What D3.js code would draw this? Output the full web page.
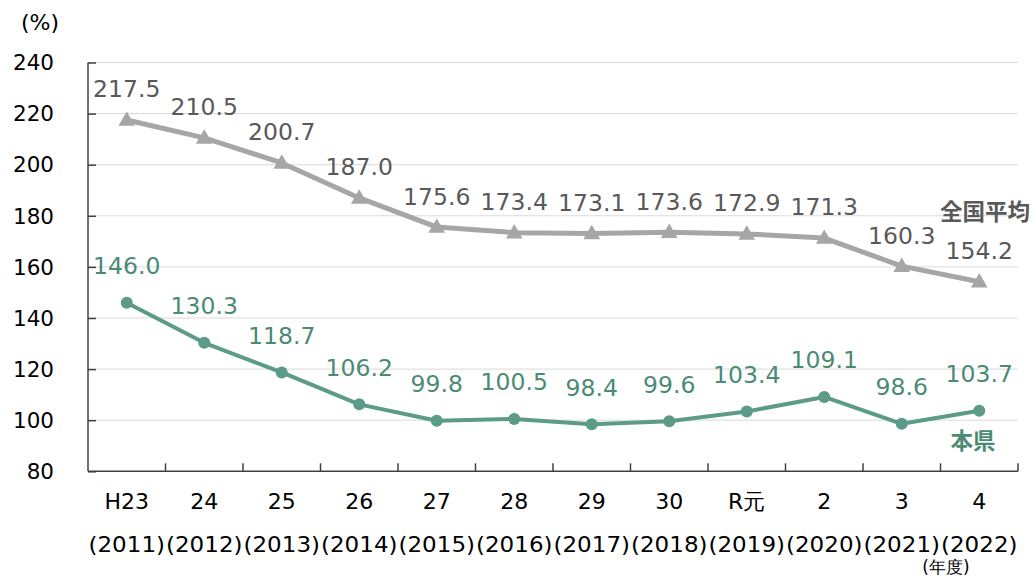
<!DOCTYPE html>
<html>
<head>
<meta charset="utf-8">
<script src="https://cdn.jsdelivr.net/npm/d3@7"></script>
<style>
  body { margin: 0; background: #fff; }
  svg { display: block; font-family: "DejaVu Sans", Verdana, sans-serif; }
</style>
</head>
<body>
<div id="chart"></div>
<script>
// 年度ラベル（上段・下段）
const eraLabels = ["H23", "24", "25", "26", "27", "28", "29", "30", "R元", "2", "3", "4"];
const yearLabels = ["(2011)", "(2012)", "(2013)", "(2014)", "(2015)", "(2016)", "(2017)", "(2018)", "(2019)", "(2020)", "(2021)", "(2022)"];

// 全国平均・本県 (%)
const nationalValues = [217.5, 210.5, 200.7, 187.0, 175.6, 173.4, 173.1, 173.6, 172.9, 171.3, 160.3, 154.2];
const prefValues = [146.0, 130.3, 118.7, 106.2, 99.8, 100.5, 98.4, 99.6, 103.4, 109.1, 98.6, 103.7];

const yTicks = [80, 100, 120, 140, 160, 180, 200, 220, 240];

const W = 1036, H = 576;
const margin = { left: 88, right: 18, top: 62.5, bottom: 104.7 };

const svg = d3.select("#chart").append("svg")
  .attr("width", W).attr("height", H);

const x = d3.scaleBand()
  .domain(eraLabels)
  .range([margin.left, W - margin.right]);

const y = d3.scaleLinear()
  .domain([80, 240])
  .range([H - margin.bottom, margin.top]);

const cx = i => x(eraLabels[i]) + x.bandwidth() / 2;

// ── grid ──
svg.append("g")
  .selectAll("line")
  .data(yTicks.slice(1))
  .join("line")
  .attr("x1", margin.left).attr("x2", W - margin.right)
  .attr("y1", d => y(d)).attr("y2", d => y(d))
  .attr("stroke", "#d9d9d9").attr("stroke-width", 1);

// ── y axis (ticks point inward) ──
const yAxis = svg.append("g")
  .attr("transform", `translate(${margin.left},0)`)
  .call(d3.axisRight(y).tickValues(yTicks).tickSize(8).tickFormat(""));
yAxis.select(".domain").attr("stroke", "#404040").attr("stroke-width", 1.5).attr("d", `M0,${y(240)}V${y(80)}`);
yAxis.selectAll(".tick line").attr("stroke", "#404040").attr("stroke-width", 1.5);

svg.append("g")
  .selectAll("text")
  .data(yTicks)
  .join("text")
  .attr("x", 54).attr("y", d => y(d))
  .attr("dy", "0.36em")
  .attr("text-anchor", "end")
  .attr("font-size", 21.5)
  .attr("fill", "#000")
  .text(d => d);

svg.append("text")
  .attr("x", 40).attr("y", 30)
  .attr("text-anchor", "middle")
  .attr("font-size", 22)
  .text("(%)");

// ── x axis: boundary ticks pointing up ──
const xBase = y(80);
svg.append("line")
  .attr("x1", margin.left).attr("x2", W - margin.right)
  .attr("y1", xBase).attr("y2", xBase)
  .attr("stroke", "#404040").attr("stroke-width", 1.5);

svg.append("g")
  .selectAll("line")
  .data(eraLabels.slice(1).concat(["end"]))
  .join("line")
  .attr("x1", (d, i) => x.range()[0] + (i + 1) * x.bandwidth())
  .attr("x2", (d, i) => x.range()[0] + (i + 1) * x.bandwidth())
  .attr("y1", xBase).attr("y2", xBase - 8)
  .attr("stroke", "#404040").attr("stroke-width", 1.5);

svg.append("g")
  .selectAll("text")
  .data(eraLabels)
  .join("text")
  .attr("x", (d, i) => cx(i)).attr("y", 509)
  .attr("text-anchor", "middle")
  .attr("font-size", 22)
  .text(d => d);

svg.append("g")
  .selectAll("text")
  .data(yearLabels)
  .join("text")
  .attr("x", (d, i) => cx(i)).attr("y", 552)
  .attr("text-anchor", "middle")
  .attr("font-size", 22)
  .attr("textLength", x.bandwidth() - 1)
  .attr("lengthAdjust", "spacingAndGlyphs")
  .text(d => d);

svg.append("text")
  .attr("x", 946).attr("y", 573)
  .attr("text-anchor", "middle")
  .attr("font-size", 17)
  .text("(年度)");

// ── series ──
const line = d3.line()
  .x((d, i) => cx(i))
  .y(d => y(d));

const GRAY = "#a6a6a6", GRAY_TEXT = "#595959";
const GREEN = "#5c9b87", GREEN_TEXT = "#4b8a75";

svg.append("path")
  .datum(nationalValues)
  .attr("d", line)
  .attr("fill", "none").attr("stroke", GRAY).attr("stroke-width", 5)
  .attr("stroke-linejoin", "round");

svg.append("g")
  .selectAll("path")
  .data(nationalValues)
  .join("path")
  .attr("d", d3.symbol(d3.symbolTriangle, 120))
  .attr("transform", (d, i) => `translate(${cx(i)},${y(d) + 1})`)
  .attr("fill", GRAY);

svg.append("path")
  .datum(prefValues)
  .attr("d", line)
  .attr("fill", "none").attr("stroke", GREEN).attr("stroke-width", 4)
  .attr("stroke-linejoin", "round");

svg.append("g")
  .selectAll("circle")
  .data(prefValues)
  .join("circle")
  .attr("cx", (d, i) => cx(i)).attr("cy", d => y(d))
  .attr("r", 6)
  .attr("fill", GREEN);

// ── data labels ──
svg.append("g")
  .selectAll("text")
  .data(nationalValues)
  .join("text")
  .attr("x", (d, i) => cx(i)).attr("y", d => y(d) - 31)
  .attr("dy", "0.36em")
  .attr("text-anchor", "middle")
  .attr("font-size", 23.5)
  .attr("fill", GRAY_TEXT)
  .text(d => d.toFixed(1));

svg.append("g")
  .selectAll("text")
  .data(prefValues)
  .join("text")
  .attr("x", (d, i) => cx(i)).attr("y", d => y(d) - 37)
  .attr("dy", "0.36em")
  .attr("text-anchor", "middle")
  .attr("font-size", 23.5)
  .attr("fill", GREEN_TEXT)
  .text(d => d.toFixed(1));

// ── series names ──
svg.append("text")
  .attr("x", 985).attr("y", 212).attr("dy", "0.36em")
  .attr("text-anchor", "middle")
  .attr("font-size", 22.5).attr("font-weight", "bold")
  .attr("font-family", "'Noto Sans CJK JP', sans-serif")
  .attr("fill", GRAY_TEXT)
  .text("全国平均");

svg.append("text")
  .attr("x", 973).attr("y", 441).attr("dy", "0.36em")
  .attr("text-anchor", "middle")
  .attr("font-size", 22.5).attr("font-weight", "bold")
  .attr("font-family", "'Noto Sans CJK JP', sans-serif")
  .attr("fill", GREEN_TEXT)
  .text("本県");
</script>
</body>
</html>
